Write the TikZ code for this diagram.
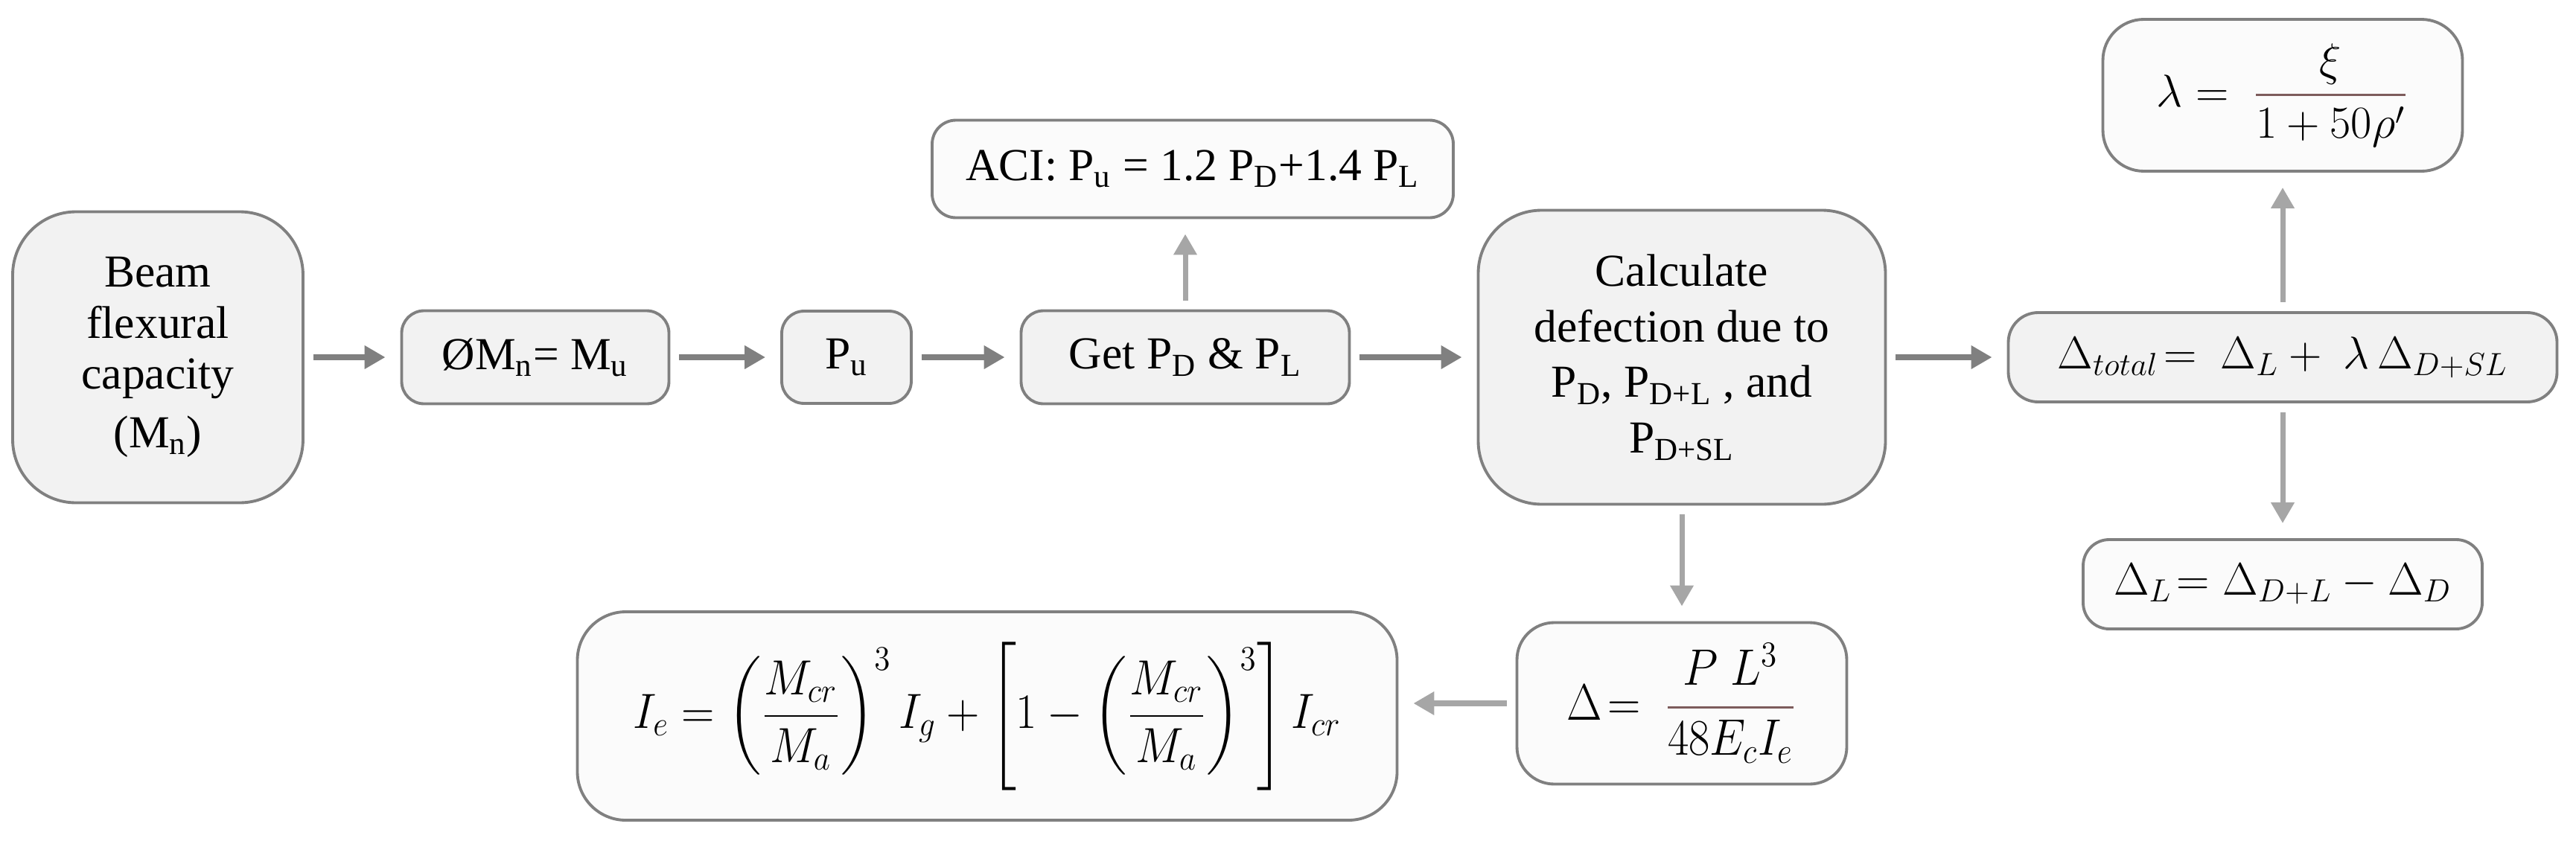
\documentclass[tikz,border=0pt]{standalone}
\usepackage{amsmath}
\usepackage{amssymb}
\usepackage{fix-cm}
\usepackage{fontspec}
\setmainfont{Liberation Serif}
\usetikzlibrary{arrows.meta}
\newcommand\sub[1]{\textsubscript{#1}}
\newcommand\barfrac[2]{{\color{red!15!gray!85!black}\dfrac{\color{black}#1}{\color{black}#2}}}

\begin{document}
\begin{tikzpicture}[
        box/.style={draw=gray, line width=1.1pt, fill=gray!10, align=center, inner sep=0pt, rounded corners=0.3cm, font=\fontsize{17.5}{19.5}\selectfont},
        pale/.style={box, fill=gray!3},
        flow/.style={draw=gray, line width=2.4pt, -{Triangle[length=0.28cm,width=0.3cm]}, shorten <=0.12cm, shorten >=0.2cm},
        side/.style={flow, draw=gray!70, line width=2pt}
    ]
        
        \useasboundingbox (0,0) rectangle (34.6,11.33);
        
        \node[box, rounded corners=0.85cm, minimum width=3.9cm, minimum height=3.91cm] (beam) at (2.12,6.53) {Beam\\flexural\\capacity\\[3pt](M\sub{n})};
        \node[box, minimum width=3.59cm, minimum height=1.25cm] (phi) at (7.19,6.53) {ØM\sub{n}= M\sub{u}};
        \node[box, minimum width=1.74cm, minimum height=1.24cm] (pu) at (11.37,6.53) {P\sub{u}};
        \node[box, minimum width=4.41cm, minimum height=1.25cm] (get) at (15.92,6.53) {Get P\sub{D} \& P\sub{L}};
        \node[pale, rounded corners=0.32cm, minimum width=7.0cm, minimum height=1.31cm] (aci) at (16.02,9.06) {ACI: P\sub{u} = 1.2 P\sub{D}+1.4 P\sub{L}};
        \node[box, rounded corners=0.85cm, minimum width=5.47cm, minimum height=3.95cm, font=\fontsize{17.5}{21.3}\selectfont] (calc) at (22.59,6.53) {Calculate\\defection due to\\P\sub{D}, P\sub{D+L} , and\\P\sub{D+SL}};
        
        \node[box, rounded corners=0.4cm, minimum width=7.37cm, minimum height=1.2cm] (total) at (30.66,6.53) {$\Delta_{total}\!= \ \Delta_L + \ \lambda\,\Delta_{D+SL}$};
        \node[pale, rounded corners=0.55cm, minimum width=4.83cm, minimum height=2.04cm] (lam) at (30.66,10.05) {$\lambda = \ \barfrac{\xi}{1+50\rho'}$};
        \node[pale, rounded corners=0.35cm, minimum width=5.36cm, minimum height=1.2cm] (dl) at (30.66,3.48) {$\Delta_L\!= \Delta_{D+L} - \Delta_D$};
        
        \node[pale, rounded corners=0.5cm, minimum width=4.43cm, minimum height=2.17cm] (delta) at (22.59,1.88) {\scalebox{1}[1.12]{$\Delta\!= \ \barfrac{P\;L^3}{48E_cI_e}$}};
        \node[pale, rounded corners=0.65cm, minimum width=11.01cm, minimum height=2.8cm] (ie) at (13.26,1.71) {\scalebox{1}[1.08]{$I_e = \left(\dfrac{M_{cr}}{M_a}\right)^{3} I_g + \left[1-\left(\dfrac{M_{cr}}{M_a}\right)^{3}\right] I_{cr}$}};
        
        \draw[flow] (beam) -- (phi);
        \draw[flow] (phi) -- (pu);
        \draw[flow] (pu) -- (get);
        \draw[flow] (get) -- (calc);
        \draw[flow] (calc) -- (total);
        
        \draw[side] (get) -- (get |- aci.south);
        \draw[side] (calc) -- (delta);
        \draw[side, line width=2.4pt] (delta.west) -- (delta.west -| ie.east);
        \draw[side] (total) -- (lam);
        \draw[side] (total) -- (dl);
    \end{tikzpicture}
\end{document}
